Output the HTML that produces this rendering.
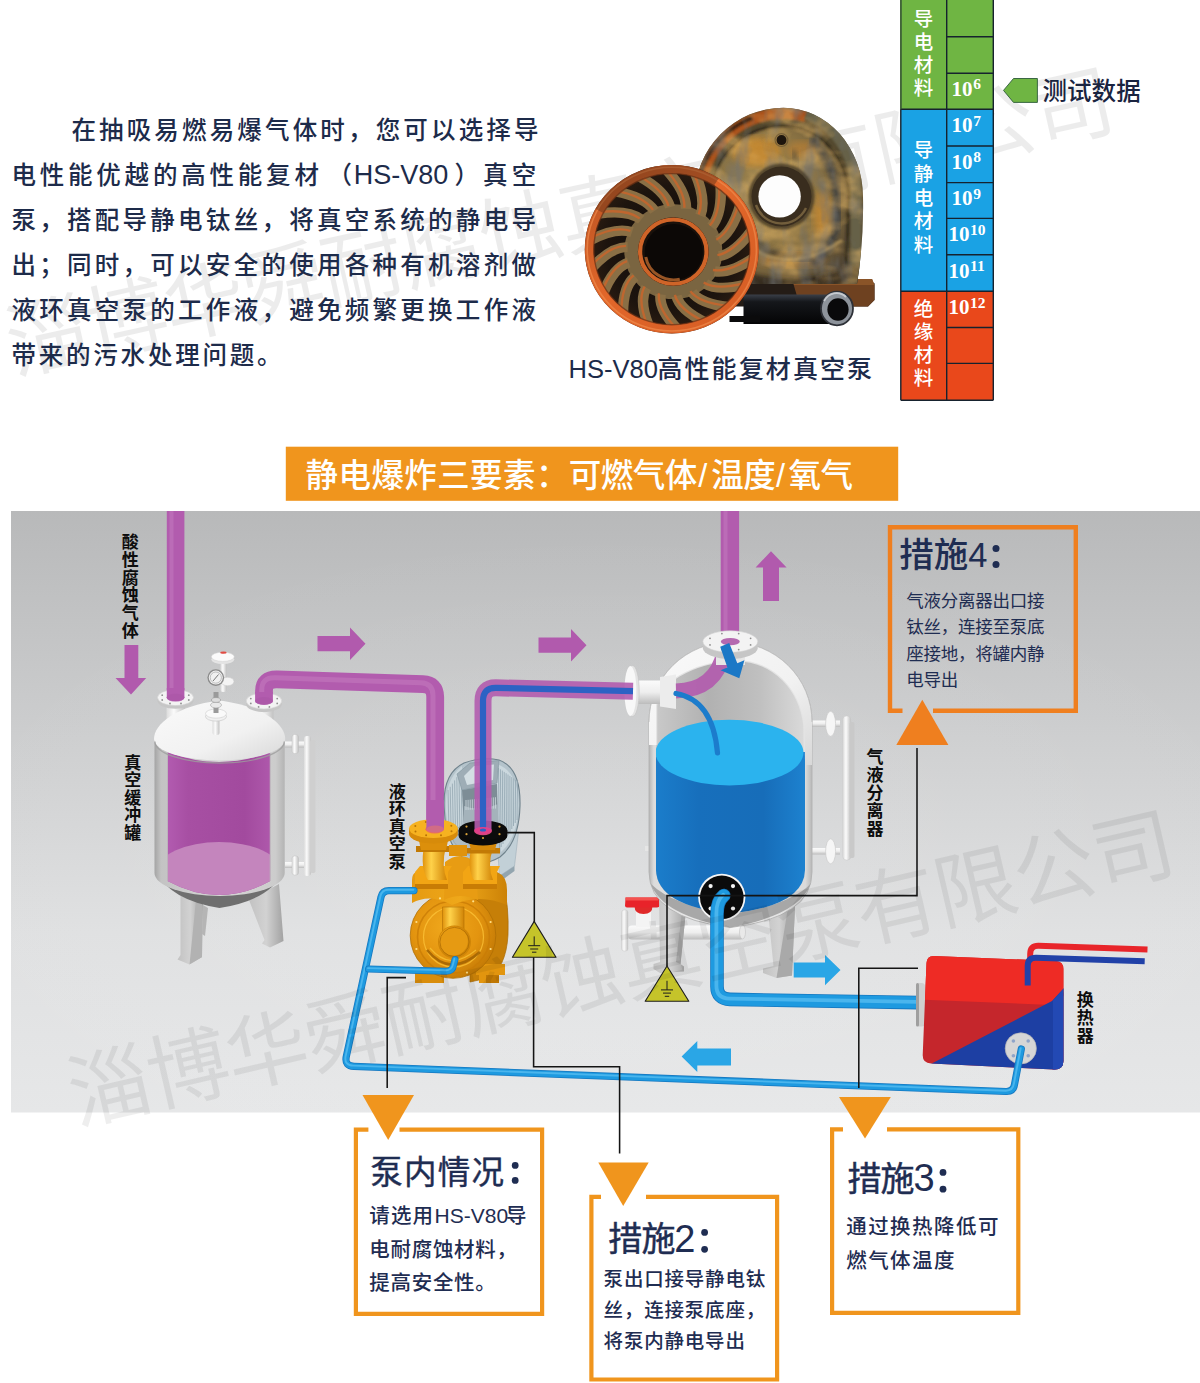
<!DOCTYPE html>
<html lang="zh-CN"><head><meta charset="utf-8"><title>HS-V80 高性能复材真空泵 — 静电防爆方案</title>
<style>
html,body{margin:0;padding:0;background:#fff}
body{width:1200px;height:1383px;overflow:hidden;position:relative;font-family:"Liberation Sans",sans-serif}
#art{position:absolute;left:0;top:0;width:1200px;height:1383px;display:block}
.num{font-family:"Liberation Serif",serif;font-weight:bold;font-size:21px;fill:#fff}
.c{font-family:"Liberation Sans","Noto Sans CJK SC",sans-serif}
.m{font-weight:500}
.k{font-weight:bold}
.t{position:absolute;margin:0;padding:0;font-weight:normal;color:transparent;overflow:hidden;white-space:normal;word-break:break-all;font-family:"Liberation Sans",sans-serif;-webkit-user-select:text;user-select:text}
</style></head><body>
<svg id="art" width="1200" height="1383" viewBox="0 0 1200 1383">
<defs>
<linearGradient id="bgv" x1="0" y1="0" x2="0" y2="1"><stop offset="0" stop-color="#b8b9ba"/><stop offset="0.2" stop-color="#c3c4c5"/><stop offset="0.45" stop-color="#d1d2d3"/><stop offset="0.7" stop-color="#dfe0e1"/><stop offset="1" stop-color="#e6e7e8"/></linearGradient>
<radialGradient id="bgr" cx="0.5" cy="0.62" r="0.6"><stop offset="0" stop-color="#fff" stop-opacity="0.12"/><stop offset="1" stop-color="#fff" stop-opacity="0"/></radialGradient>
<linearGradient id="bgl" x1="0" y1="0" x2="0.5" y2="0.6"><stop offset="0" stop-color="#000" stop-opacity="0.08"/><stop offset="0.6" stop-color="#000" stop-opacity="0"/><stop offset="1" stop-color="#000" stop-opacity="0"/></linearGradient>
<linearGradient id="tankw" x1="0" y1="0" x2="1" y2="0"><stop offset="0" stop-color="#a4a4a4"/><stop offset="0.05" stop-color="#c3c3c3"/><stop offset="0.5" stop-color="#d6d6d6"/><stop offset="0.93" stop-color="#cccccc"/><stop offset="1" stop-color="#b4b4b4"/></linearGradient>
<linearGradient id="purin" x1="0" y1="0" x2="1" y2="0"><stop offset="0" stop-color="#b25bb0"/><stop offset="0.2" stop-color="#a74fa3"/><stop offset="0.75" stop-color="#a24a9e"/><stop offset="1" stop-color="#ae58ab"/></linearGradient>
<linearGradient id="domeg" x1="0" y1="0" x2="1" y2="1"><stop offset="0" stop-color="#fafafa"/><stop offset="0.6" stop-color="#f1f1f1"/><stop offset="1" stop-color="#d8d8d8"/></linearGradient>
<linearGradient id="legg" x1="0" y1="0" x2="1" y2="0"><stop offset="0" stop-color="#c2c2c2"/><stop offset="0.5" stop-color="#d2d2d2"/><stop offset="1" stop-color="#a2a2a2"/></linearGradient>
<linearGradient id="whg" x1="0" y1="0" x2="1" y2="0"><stop offset="0" stop-color="#dcdcdc"/><stop offset="0.4" stop-color="#fbfbfb"/><stop offset="1" stop-color="#c2c2c2"/></linearGradient>
<linearGradient id="whgv" x1="0" y1="0" x2="0" y2="1"><stop offset="0" stop-color="#fbfbfb"/><stop offset="0.5" stop-color="#eeeeee"/><stop offset="1" stop-color="#bcbcbc"/></linearGradient>
<linearGradient id="sepsh" x1="0" y1="0" x2="1" y2="0"><stop offset="0" stop-color="#b4b4b4"/><stop offset="0.03" stop-color="#dcdcdc"/><stop offset="0.5" stop-color="#f4f4f4"/><stop offset="0.96" stop-color="#dadada"/><stop offset="1" stop-color="#b8b8b8"/></linearGradient>
<linearGradient id="sepin" x1="0" y1="0" x2="1" y2="0"><stop offset="0" stop-color="#c9c9c9"/><stop offset="0.35" stop-color="#b1b1b1"/><stop offset="0.7" stop-color="#c0c0c0"/><stop offset="1" stop-color="#dadada"/></linearGradient>
<linearGradient id="watg" x1="0" y1="0" x2="1" y2="0"><stop offset="0" stop-color="#1b7fcd"/><stop offset="0.3" stop-color="#176fbc"/><stop offset="0.7" stop-color="#176db9"/><stop offset="1" stop-color="#1e85d3"/></linearGradient>
<linearGradient id="motg" x1="0" y1="0" x2="1" y2="1"><stop offset="0" stop-color="#eef4f7"/><stop offset="0.5" stop-color="#cfdbe1"/><stop offset="1" stop-color="#a9b9c2"/></linearGradient>
<radialGradient id="pumpc" cx="0.42" cy="0.4" r="0.65"><stop offset="0" stop-color="#f0a81c"/><stop offset="0.6" stop-color="#e3940f"/><stop offset="1" stop-color="#c17805"/></radialGradient>
<linearGradient id="pumpb" x1="0" y1="0" x2="1" y2="0"><stop offset="0" stop-color="#e59a12"/><stop offset="0.5" stop-color="#efa81a"/><stop offset="1" stop-color="#cc8207"/></linearGradient>
<linearGradient id="tubeY" x1="0" y1="0" x2="1" y2="0"><stop offset="0" stop-color="#e0920c"/><stop offset="0.35" stop-color="#ffd24a"/><stop offset="1" stop-color="#d18406"/></linearGradient>
<filter id="sb2"><feGaussianBlur stdDeviation="2"/></filter>
<filter id="sb1"><feGaussianBlur stdDeviation="0.8"/></filter>
<clipPath id="tankclip"><path d="M167.5 752Q219.5 772 270.2 752V881Q219.5 909 167.5 881Z"/></clipPath>
</defs>
<!-- watermark top -->
<text class="c" transform="translate(13.78 374.35) rotate(-12.6)" font-size="82" letter-spacing="-1.2" fill="#000" opacity="0.072">淄博华舜耐腐蚀真空泵有限公司</text>
<!-- top -->
<text class="c m" x="71.4" y="138.81" font-size="24.5" letter-spacing="3.16" fill="#1d2b4a">在抽吸易燃易爆气体时，您可以选择导</text>
<text class="c m" x="11.4" y="183.81" font-size="24.5" letter-spacing="3.8" fill="#1d2b4a">电性能优越的高性能复材</text>
<text class="c m" x="327.5" y="183.81" font-size="24.5" fill="#1d2b4a">（</text>
<text class="c m" x="353.8" y="183.61" font-size="27" fill="#1d2b4a">HS-V80</text>
<text class="c m" x="454.5" y="183.81" font-size="24.5" letter-spacing="4.1" fill="#1d2b4a">）真空</text>
<text class="c m" x="11.4" y="228.81" font-size="24.5" letter-spacing="3.28" fill="#1d2b4a">泵，搭配导静电钛丝，将真空系统的静电导</text>
<text class="c m" x="11.4" y="273.81" font-size="24.5" letter-spacing="3.28" fill="#1d2b4a">出；同时，可以安全的使用各种有机溶剂做</text>
<text class="c m" x="11.4" y="318.81" font-size="24.5" letter-spacing="3.28" fill="#1d2b4a">液环真空泵的工作液，避免频繁更换工作液</text>
<text class="c m" x="11.4" y="363.81" font-size="24.5" letter-spacing="2.8" fill="#1d2b4a">带来的污水处理问题。</text>
<text class="c m" x="568.6" y="378" font-size="25.5" fill="#1d2b4a">HS-V80</text>
<text class="c m" x="657.4" y="377.8" font-size="25" letter-spacing="2.1" fill="#1d2b4a">高性能复材真空泵</text>
<rect x="900.8" y="-2" width="92.5" height="111.3" fill="#6fb543"/>
<rect x="900.8" y="109.3" width="92.5" height="181.9" fill="#1aa2e4"/>
<rect x="900.8" y="291.2" width="92.5" height="109.0" fill="#e9481b"/>
<path d="M946.7 -2V400.2M993.3 -2V400.2M900.8 -2V400.2M946.7 36.8H993.3M946.7 73.3H993.3M900.8 109.3H993.3M946.7 146.0H993.3M946.7 182.6H993.3M946.7 218.4H993.3M946.7 254.8H993.3M900.8 291.2H993.3M946.7 327.5H993.3M946.7 363.4H993.3M900.8 400.2H993.3" stroke="#16222e" stroke-width="1.4" fill="none"/>
<path d="M900.8 -2V109.3" stroke="#4d7a3a" stroke-width="1" fill="none"/>
<text class="c m" font-size="19.5" fill="#fff"><tspan x="913.84" y="25.5">导</tspan><tspan x="913.84" y="48.8">电</tspan><tspan x="913.84" y="72.1">材</tspan><tspan x="913.84" y="95.4">料</tspan></text>
<text class="c m" font-size="19.5" fill="#fff"><tspan x="913.84" y="157.4">导</tspan><tspan x="913.84" y="181">静</tspan><tspan x="913.84" y="204.6">电</tspan><tspan x="913.84" y="228.2">材</tspan><tspan x="913.84" y="251.8">料</tspan></text>
<text class="c m" font-size="19.5" fill="#fff"><tspan x="913.84" y="316.4">绝</tspan><tspan x="913.84" y="339.4">缘</tspan><tspan x="913.84" y="362.4">材</tspan><tspan x="913.84" y="385.4">料</tspan></text>
<text x="951.6" y="95.6" class="num">10<tspan dy="-6.2" font-size="15.5" dx="0.6">6</tspan></text>
<text x="951.6" y="132.0" class="num">10<tspan dy="-6.2" font-size="15.5" dx="0.6">7</tspan></text>
<text x="951.6" y="168.6" class="num">10<tspan dy="-6.2" font-size="15.5" dx="0.6">8</tspan></text>
<text x="951.6" y="205.2" class="num">10<tspan dy="-6.2" font-size="15.5" dx="0.6">9</tspan></text>
<text x="948.4" y="241.4" class="num">10<tspan dy="-6.2" font-size="15.5" dx="0.6">10</tspan></text>
<text x="948.4" y="277.6" class="num">10<tspan dy="-6.2" font-size="15.5" dx="0.6">11</tspan></text>
<text x="948.4" y="314.0" class="num">10<tspan dy="-6.2" font-size="15.5" dx="0.6">12</tspan></text>
<path d="M1003.5 90.4L1013.5 78.5H1037.4V102.4H1013.5Z" fill="#6fb543" stroke="#2d5a3a" stroke-width="0.9"/>
<text class="c m" x="1042.4" y="99.6" font-size="24.5" letter-spacing="0.1" fill="#1a2440">测试数据</text>
<!-- photo -->
<defs>
<radialGradient id="hsg" cx="0.42" cy="0.40" r="0.70"><stop offset="0" stop-color="#9f8752"/><stop offset="0.5" stop-color="#8d7544"/><stop offset="0.8" stop-color="#6e5c3a"/><stop offset="1" stop-color="#4e412d"/></radialGradient>
<radialGradient id="impbg" cx="0.5" cy="0.5" r="0.5"><stop offset="0" stop-color="#0e0a08"/><stop offset="0.75" stop-color="#1d140e"/><stop offset="1" stop-color="#2e1e12"/></radialGradient>
<linearGradient id="pipeg" x1="0" y1="0" x2="0" y2="1"><stop offset="0" stop-color="#3a3f48"/><stop offset="0.25" stop-color="#15171b"/><stop offset="1" stop-color="#040405"/></linearGradient>
<linearGradient id="ringg" x1="0" y1="0" x2="1" y2="1"><stop offset="0" stop-color="#b85222"/><stop offset="0.45" stop-color="#e2672a"/><stop offset="1" stop-color="#d45c24"/></linearGradient>
<filter id="rust" x="-5%" y="-5%" width="110%" height="110%"><feTurbulence type="fractalNoise" baseFrequency="0.03 0.045" numOctaves="3" seed="7" result="n"/><feColorMatrix in="n" type="matrix" values="0 0 0 0 0.78  0 0 0 0 0.47  0 0 0 0 0.14  3.2 0 0 0 -1.35" result="c"/><feComposite in="c" in2="SourceGraphic" operator="in"/></filter>
<filter id="dirt" x="-5%" y="-5%" width="110%" height="110%"><feTurbulence type="fractalNoise" baseFrequency="0.06 0.025" numOctaves="3" seed="23" result="n"/><feColorMatrix in="n" type="matrix" values="0 0 0 0 0.16  0 0 0 0 0.17  0 0 0 0 0.18  0 3.0 0 0 -1.35" result="c"/><feComposite in="c" in2="SourceGraphic" operator="in"/></filter>
<filter id="b1"><feGaussianBlur stdDeviation="1.2"/></filter>
<filter id="b2"><feGaussianBlur stdDeviation="2"/></filter>
<filter id="b3"><feGaussianBlur stdDeviation="3.5"/></filter>
<clipPath id="hclip"><path d="M694.5 198A88.9 90.3 0 0 1 783.4 107.7A79.6 89.3 0 0 1 863 197Q864 240 857 284H735Q694.5 250 694.5 198Z"/></clipPath>
</defs>
<path d="M729 283H874.5V300L868 306.5H729Z" fill="#241c16"/>
<path d="M792 279H872L874.5 285V300L868 306.5H800Z" fill="#6e4120"/>
<path d="M792 279H872L874.5 285H794Z" fill="#8a5428"/>
<path d="M694.5 198A88.9 90.3 0 0 1 783.4 107.7A79.6 89.3 0 0 1 863 197Q864 240 857 284H735Q694.5 250 694.5 198Z" fill="#54492f"/>
<g clip-path="url(#hclip)">
<path d="M700 200A83.5 84.5 0 0 1 783.4 113.5Q796 114 806 117" fill="none" stroke="#b0541c" stroke-width="11" opacity="0.95" filter="url(#b1)"/>
<path d="M696 205A87.5 89 0 0 1 752 118" fill="none" stroke="#2c1c10" stroke-width="4" opacity="0.85" filter="url(#b1)"/>
<path d="M806 114A72 82 0 0 1 856 197V284" fill="none" stroke="#6b664e" stroke-width="11" opacity="0.85" filter="url(#b1)"/>
<path d="M711.2 198A71.8 71 0 0 1 783 126A65.3 71 0 0 1 848.3 197L846 286H742Q711 250 711.2 198Z" fill="url(#hsg)"/>
<path d="M711.2 198A71.8 71 0 0 1 783 126A65.3 71 0 0 1 848.3 197L846 286" fill="none" stroke="#2a2418" stroke-width="2.6" opacity="0.8" filter="url(#b1)"/>
<ellipse cx="757" cy="152" rx="24" ry="15" fill="#c98a2f" opacity="0.85" filter="url(#b3)"/>
<ellipse cx="803" cy="150" rx="16" ry="9" fill="#c08030" opacity="0.6" filter="url(#b3)"/>
<ellipse cx="823" cy="215" rx="10" ry="24" fill="#c88a30" opacity="0.8" filter="url(#b3)"/>
<ellipse cx="792" cy="260" rx="34" ry="7" fill="#b97a2c" opacity="0.7" filter="url(#b3)"/>
<ellipse cx="738" cy="215" rx="10" ry="20" fill="#b8842f" opacity="0.55" filter="url(#b3)"/>
<path d="M812 138Q840 172 838 215Q836 246 812 264" fill="none" stroke="#343a42" stroke-width="8" opacity="0.7" filter="url(#b2)"/>
<path d="M742 228Q768 262 812 258" fill="none" stroke="#33332f" stroke-width="8" opacity="0.65" filter="url(#b2)"/>
<path d="M793 150Q800 170 797 180" fill="none" stroke="#4a463a" stroke-width="5" opacity="0.5" filter="url(#b2)"/>
<path d="M748 246Q792 276 842 240" fill="none" stroke="#b79a5e" stroke-width="3.2" opacity="0.65" filter="url(#b1)"/>
<path d="M735 268Q790 290 862 264V290H735Z" fill="#221c16" opacity="0.7" filter="url(#b2)"/>
<path d="M694.5 198A88.9 90.3 0 0 1 783.4 107.7A79.6 89.3 0 0 1 863 197Q864 240 857 284H735Q694.5 250 694.5 198Z" filter="url(#rust)" opacity="0.5"/>
<path d="M694.5 198A88.9 90.3 0 0 1 783.4 107.7A79.6 89.3 0 0 1 863 197Q864 240 857 284H735Q694.5 250 694.5 198Z" filter="url(#dirt)" opacity="0.55"/>
</g>
<circle cx="781.5" cy="196.6" r="33" fill="#3f3422" opacity="0.75" filter="url(#b1)"/>
<circle cx="781.5" cy="196.6" r="30" fill="#392d1e"/>
<path d="M756 205A27 27 0 0 0 806 208" fill="none" stroke="#8a7448" stroke-width="2.4" opacity="0.7"/>
<circle cx="779.6" cy="196.4" r="21.2" fill="#fdfdfd"/>
<circle cx="781.5" cy="140.1" r="5" fill="#1d150d"/><circle cx="781.5" cy="140.1" r="6.4" fill="none" stroke="#5a4a30" stroke-width="1.2" opacity="0.6"/>
<path d="M743.5 294.5H840V324H743.5Z" fill="url(#pipeg)"/>
<path d="M729.5 316H760V322H729.5Z" fill="#0b0b0c"/>
<ellipse cx="837" cy="308.5" rx="16" ry="16.8" fill="#8d939b"/>
<ellipse cx="837" cy="308.5" rx="16" ry="16.8" fill="none" stroke="#2e3138" stroke-width="1.8"/>
<path d="M824 301A14 14.5 0 0 1 846 297" fill="none" stroke="#d6dade" stroke-width="2" opacity="0.8"/>
<ellipse cx="838" cy="309.5" rx="10.6" ry="11.2" fill="#09090b"/>
<g transform="translate(671.8 249.2) scale(1 0.968)">
<circle cx="0" cy="0" r="87.0" fill="url(#impbg)"/>
<circle cx="1.5" cy="2.5" r="42" fill="none" stroke="#7a6541" stroke-width="14"/>
<path d="M47.2 7.3Q62.7 4.6 79.7 -19.1M42.8 22.7Q57.8 25.6 81.5 9.3M33.5 35.6Q46.0 43.6 73.4 36.6M20.2 44.5Q28.8 56.5 56.4 59.5M4.7 48.4Q8.2 62.8 32.7 75.2M-11.2 46.7Q-13.3 61.6 5.0 81.8M-25.5 39.7Q-33.1 53.1 -23.3 78.6M-36.6 28.2Q-48.8 38.4 -48.8 65.9M-43.1 13.6Q-58.5 19.2 -68.4 45.2M-44.2 -2.3Q-61.1 -2.2 -79.7 19.1M-39.8 -17.7Q-56.2 -23.2 -81.5 -9.3M-30.5 -30.6Q-44.4 -41.2 -73.4 -36.6M-17.2 -39.5Q-27.2 -54.1 -56.4 -59.5M-1.7 -43.4Q-6.6 -60.4 -32.7 -75.2M14.2 -41.7Q14.9 -59.2 -5.0 -81.8M28.5 -34.7Q34.7 -50.7 23.3 -78.6M39.6 -23.2Q50.4 -36.0 48.8 -65.9M46.1 -8.6Q60.1 -16.8 68.4 -45.2" fill="none" stroke="#8a6f45" stroke-width="10.5" stroke-linecap="butt"/>
<path d="M47.2 7.3Q62.7 4.6 79.7 -19.1M42.8 22.7Q57.8 25.6 81.5 9.3M33.5 35.6Q46.0 43.6 73.4 36.6M20.2 44.5Q28.8 56.5 56.4 59.5M4.7 48.4Q8.2 62.8 32.7 75.2M-11.2 46.7Q-13.3 61.6 5.0 81.8M-25.5 39.7Q-33.1 53.1 -23.3 78.6M-36.6 28.2Q-48.8 38.4 -48.8 65.9M-43.1 13.6Q-58.5 19.2 -68.4 45.2M-44.2 -2.3Q-61.1 -2.2 -79.7 19.1M-39.8 -17.7Q-56.2 -23.2 -81.5 -9.3M-30.5 -30.6Q-44.4 -41.2 -73.4 -36.6M-17.2 -39.5Q-27.2 -54.1 -56.4 -59.5M-1.7 -43.4Q-6.6 -60.4 -32.7 -75.2M14.2 -41.7Q14.9 -59.2 -5.0 -81.8M28.5 -34.7Q34.7 -50.7 23.3 -78.6M39.6 -23.2Q50.4 -36.0 48.8 -65.9M46.1 -8.6Q60.1 -16.8 68.4 -45.2" fill="none" stroke="#c8652c" stroke-width="2.4" stroke-linecap="butt" transform="translate(-1.6 -1.2)" opacity="0.85"/>
<circle cx="0" cy="0" r="82.6" fill="none" stroke="url(#ringg)" stroke-width="8.8"/>
<circle cx="0" cy="0" r="84.6" fill="none" stroke="#f08a4c" stroke-width="1.6" opacity="0.7"/>
<circle cx="0" cy="0" r="78.0" fill="none" stroke="#6e2f12" stroke-width="1.4" opacity="0.7"/>
<path d="M-72.5 -39.6A82.6 82.6 0 0 1 44.6 -69.5" fill="none" stroke="#5a3018" stroke-width="8.8" opacity="0.45"/>
<circle cx="1.5" cy="2.5" r="35.4" fill="#1a110b"/>
<circle cx="1.5" cy="2.5" r="33.2" fill="none" stroke="#cf6428" stroke-width="4.2"/>
<circle cx="2" cy="3" r="29" fill="#0c0806"/>
<path d="M-26 8A28.5 28.5 0 0 0 8 31" fill="none" stroke="#b0632c" stroke-width="3" opacity="0.85"/>
</g>
<!-- banner -->
<rect x="285.8" y="446.7" width="612.4" height="54.1" fill="#f0951d"/>
<text class="c m" x="305.6" y="487.3" font-size="32.5" letter-spacing="0.4" fill="#fff">静电爆炸三要素：</text>
<text class="c m" x="568.8" y="487.3" font-size="32.5" letter-spacing="-0.5" fill="#fff">可燃气体</text>
<text class="c m" x="698.2" y="487.3" font-size="32.5" fill="#fff">/</text>
<text class="c m" x="711.2" y="487.3" font-size="32.5" letter-spacing="-0.5" fill="#fff">温度</text>
<text class="c m" x="776" y="487.3" font-size="32.5" fill="#fff">/</text>
<text class="c m" x="788.6" y="487.3" font-size="32.5" letter-spacing="-0.5" fill="#fff">氧气</text>
<!-- diagram -->
<rect x="11" y="511" width="1189" height="601.5" fill="url(#bgv)"/>
<rect x="11" y="511" width="1189" height="601.5" fill="url(#bgr)"/>
<rect x="166.8" y="511" width="17.6" height="187" fill="#b25cae"/><rect x="169.5" y="511" width="4" height="187" fill="#c47bc0" opacity="0.5"/>
<path d="M264 701V691Q264 679 277 679.3L423 684.2Q435.2 684.6 435.2 697V829" fill="none" stroke="#b25cae" stroke-width="17.8" stroke-linejoin="round"/><path d="M264 701V691Q264 679 277 679.3L423 684.2Q435.2 684.6 435.2 697V829" fill="none" stroke="#c47bc0" stroke-width="5.0" stroke-linejoin="round" opacity="0.55" transform="translate(-2.2 -1.5)"/>
<rect x="720.7" y="511" width="18.4" height="132" fill="#b25cae"/><rect x="723.5" y="511" width="4" height="132" fill="#c47bc0" opacity="0.5"/>
<path d="M180.5 888L203 898L202 957L189.5 964.5L177.5 959.5L180.5 955Z" fill="url(#legg)"/>
<path d="M189.5 964.5L202 957V898L196 900Z" fill="#b2b2b2"/>
<path d="M203 905L208 908L205 936L202 934Z" fill="#b5b5b5"/>
<path d="M249 900L279 884L283.5 941L270 947.5L262 943.5L264.5 940Z" fill="url(#legg)"/>
<path d="M157 872Q170 900 219.5 908Q270 900 283 872Z" fill="#6f6f6f"/>
<path d="M154.5 738V873A65.1 23 0 0 0 284.7 873V738Z" fill="url(#tankw)"/>
<path d="M167.5 752Q219.5 772 270.2 752V881Q219.5 909 167.5 881Z" fill="url(#purin)"/>
<ellipse cx="219" cy="870" rx="61" ry="28" fill="#c485bd" clip-path="url(#tankclip)"/>
<path d="M167.5 752V881M270.2 752V881" stroke="#bdbdbd" stroke-width="0.8" fill="none"/>
<rect x="285" y="741.5" width="20" height="6" fill="url(#whgv)"/><rect x="285" y="862" width="20" height="6" fill="url(#whgv)"/>
<rect x="292" y="734.5" width="6.5" height="19" rx="2.5" fill="url(#whg)" stroke="#bbb" stroke-width="0.4"/><rect x="292" y="856" width="6.5" height="19" rx="2.5" fill="url(#whg)" stroke="#bbb" stroke-width="0.4"/>
<rect x="304" y="736" width="7" height="140" rx="3" fill="url(#whg)"/><rect x="310" y="740" width="5.5" height="133" rx="2" fill="#cfcfcf"/>
<path d="M166.5 700V726Q175.5 732 185 722V700Z" fill="url(#whg)"/>
<path d="M254.5 703V724Q262 733 273.5 729V703Z" fill="url(#whg)"/>
<path d="M154 739C154 724 176 706 219.5 700.5C263 706 285 724 285.2 739A65.6 21.5 0 0 1 154 739Z" fill="url(#domeg)"/>
<path d="M155 741.5A64.6 21.5 0 0 0 284.2 741.5" fill="none" stroke="#9d9d9d" stroke-width="1.3" opacity="0.8"/>
<path d="M157.5 697.6V700.8A18.0 8.0 0 0 0 193.5 700.8V697.6Z" fill="#c6c6c6"/><ellipse cx="175.5" cy="697.6" rx="18.0" ry="8.0" fill="#f3f3f3" stroke="#d2d2d2" stroke-width="0.6"/><circle cx="188.8" cy="700.0" r="0.9" fill="#8f8f8f"/><circle cx="181.0" cy="703.5" r="0.9" fill="#8f8f8f"/><circle cx="170.0" cy="703.5" r="0.9" fill="#8f8f8f"/><circle cx="162.2" cy="700.0" r="0.9" fill="#8f8f8f"/><circle cx="162.2" cy="695.2" r="0.9" fill="#8f8f8f"/><circle cx="170.0" cy="691.7" r="0.9" fill="#8f8f8f"/><circle cx="181.0" cy="691.7" r="0.9" fill="#8f8f8f"/><circle cx="188.8" cy="695.2" r="0.9" fill="#8f8f8f"/><ellipse cx="175.5" cy="697.6" rx="9.0" ry="4.0" fill="#c98ec6"/>
<path d="M246.2 701.0V704.2A17.8 8.0 0 0 0 281.8 704.2V701.0Z" fill="#c6c6c6"/><ellipse cx="264.0" cy="701.0" rx="17.8" ry="8.0" fill="#f3f3f3" stroke="#d2d2d2" stroke-width="0.6"/><circle cx="277.2" cy="703.4" r="0.9" fill="#8f8f8f"/><circle cx="269.4" cy="706.9" r="0.9" fill="#8f8f8f"/><circle cx="258.6" cy="706.9" r="0.9" fill="#8f8f8f"/><circle cx="250.8" cy="703.4" r="0.9" fill="#8f8f8f"/><circle cx="250.8" cy="698.6" r="0.9" fill="#8f8f8f"/><circle cx="258.6" cy="695.1" r="0.9" fill="#8f8f8f"/><circle cx="269.4" cy="695.1" r="0.9" fill="#8f8f8f"/><circle cx="277.2" cy="698.6" r="0.9" fill="#8f8f8f"/><ellipse cx="264.0" cy="701.0" rx="9.0" ry="4.0" fill="#c98ec6"/>
<path d="M166.8 688V697.6A8.8 3.7 0 0 0 184.4 697.6V688Z" fill="#b25cae"/><ellipse cx="175.6" cy="697.4" rx="8.8" ry="3.7" fill="#a955a5" opacity="0.55"/>
<path d="M255.1 692V701A8.9 3.7 0 0 0 272.9 701V692Z" fill="#b25cae"/><ellipse cx="264" cy="700.8" rx="8.9" ry="3.7" fill="#a955a5" opacity="0.55"/>
<rect x="212.5" y="718" width="7" height="17" rx="2.5" fill="url(#whg)"/>
<ellipse cx="216" cy="716.5" rx="10.5" ry="4.6" fill="#f1f1f1" stroke="#c4c4c4" stroke-width="0.6"/><ellipse cx="216" cy="713.6" rx="10.5" ry="4.6" fill="#fafafa" stroke="#cdcdcd" stroke-width="0.6"/>
<rect x="213.5" y="692" width="5" height="21" fill="#9a9a9a"/><ellipse cx="216" cy="705" rx="5.5" ry="3" fill="#e9e9e9" stroke="#999" stroke-width="0.5"/><ellipse cx="216" cy="700" rx="4.5" ry="2.4" fill="#ddd" stroke="#888" stroke-width="0.5"/>
<rect x="220.5" y="660" width="6" height="32" rx="2.5" fill="url(#whg)"/><ellipse cx="227.5" cy="681.5" rx="6.5" ry="4.2" fill="#f4f4f4" stroke="#c8c8c8" stroke-width="0.5"/>
<ellipse cx="222.8" cy="659.4" rx="11.5" ry="4.6" fill="#e4e4e4"/><ellipse cx="222.8" cy="656.8" rx="11.5" ry="4.6" fill="#fbfbfb" stroke="#d0d0d0" stroke-width="0.5"/><ellipse cx="223.5" cy="652.7" rx="3.2" ry="1.1" fill="#e14b43"/>
<circle cx="215.8" cy="677.6" r="8.4" fill="#8c8c8c"/><circle cx="215.8" cy="677.6" r="7" fill="#f1f1f1"/><circle cx="215.8" cy="677.6" r="5.6" fill="none" stroke="#9b9b9b" stroke-width="0.6"/><path d="M213 681L218.5 674.5" stroke="#444" stroke-width="0.7"/>
<path d="M497 840L518.5 832L514.5 866L499.5 876Z" fill="#c2d0d7" stroke="#9fb0ba" stroke-width="0.6"/>
<path d="M499.5 876L514.5 866V871L501 881Z" fill="#93a5af"/>
<path d="M444.5 812Q441 774 464 763Q482 756.5 499 760Q521 768 520 806Q519 842 500 857Q480 869 462 857Q445.5 842 444.5 812Z" fill="#b4c3cb" stroke="#6f828c" stroke-width="1.1"/>
<path d="M497 764Q519 772 518.5 806Q517.5 838 501 852L497 800Z" fill="#cbd8de"/>
<path d="M498.5 768.0L499.5 850.0M500.4 769.3L501.2 847.0M502.3 770.6L503.0 844.0M504.2 771.9L504.8 841.0M506.1 773.2L506.5 838.0M508.0 774.5L508.2 835.0M509.9 775.8L510.0 832.0M511.8 777.1L511.8 829.0M513.7 778.4L513.5 826.0M515.6 779.7L515.2 823.0M517.5 781.0L517.0 820.0" stroke="#8fa3ae" stroke-width="0.8" fill="none"/>
<path d="M446 812Q444 780 462 766L464 848Q448 836 446 812Z" fill="#c9d6dc"/>
<path d="M448.0 790.0L449.0 832.0M450.2 786.8L451.2 834.2M452.4 783.6L453.4 836.4M454.6 780.4L455.6 838.6M456.8 777.2L457.8 840.8M459.0 774.0L460.0 843.0M461.2 770.8L462.2 845.2" stroke="#94a7b1" stroke-width="0.8" fill="none"/>
<path d="M462 790L497 784L498 826Q482 838 464 828Z" fill="#7d8d96"/>
<path d="M464 806Q480 812 498 804L498 826Q482 838 464 828Z" fill="#a4b3bb"/>
<path d="M466.0 800.0V810.0M468.1 799.8V809.9M470.2 799.6V809.8M472.3 799.4V809.7M474.4 799.2V809.6M476.5 799.0V809.5M478.6 798.8V809.4M480.7 798.6V809.3M482.8 798.4V809.2M484.9 798.2V809.1M487.0 798.0V809.0M489.1 797.8V808.9M491.2 797.6V808.8M493.3 797.4V808.7M495.4 797.2V808.6" stroke="#d3dee3" stroke-width="0.8" fill="none"/>
<path d="M457 774L470 763L499 760.5L497 783L462 790Z" fill="#9eadb6" stroke="#8195a0" stroke-width="0.6"/>
<path d="M464 776L474 766L494 764.5L493 780L467 785Z" fill="#d3dee3"/>
<path d="M449 832Q470 818 500 830Q498 850 480 858Q458 856 449 832Z" fill="#adbcc4" stroke="#8fa2ac" stroke-width="0.7"/>
<path d="M455 836Q472 826 494 834" fill="none" stroke="#8396a0" stroke-width="0.9"/>
<rect x="628" y="925.5" width="116" height="14" rx="4" fill="url(#whgv)"/>
<rect x="621.5" y="910" width="6.5" height="41" rx="2.5" fill="url(#whg)" stroke="#c4c4c4" stroke-width="0.4"/>
<path d="M636 908H651V927H636Z" fill="#f4f4f4"/><path d="M634.5 906H652.5Q652.5 914 643.5 914Q634.5 914 634.5 906Z" fill="#e02a2a"/>
<path d="M625.5 897.5H657.5Q659.5 897.5 659.5 899.5V905.5Q659.5 907.5 657 907.5H627Q625 907.5 625 905.5Z" fill="#e8232a"/><path d="M625.5 897.5H657.5L658.5 900.5H626Z" fill="#f4524f"/>
<ellipse cx="742.5" cy="932" rx="3" ry="7" fill="#e9e9e9" stroke="#bbb" stroke-width="0.5"/>
<path d="M659 893L686.5 905L680.5 964L684 966.5V971.5L660 973L653.5 969V964L660 962Z" fill="url(#legg)"/>
<path d="M680.5 964L686.5 905L683 903.5L676 962Z" fill="#a4a4a4"/>
<path d="M767.5 906L795.5 893L792 975.5L776.5 978L763 973V968.5L773.5 966Z" fill="url(#legg)"/>
<path d="M776.5 978L792 975.5L795.5 893L790 895.5Z" fill="#a9a9a9"/>
<rect x="812" y="720.5" width="28" height="6.5" fill="url(#whgv)"/><rect x="812" y="848" width="28" height="6.5" fill="url(#whgv)"/>
<ellipse cx="830.6" cy="723.8" rx="5" ry="12.5" fill="#f6f6f6" stroke="#c6c6c6" stroke-width="0.6"/><ellipse cx="830.6" cy="851.3" rx="5" ry="12.5" fill="#f6f6f6" stroke="#c6c6c6" stroke-width="0.6"/>
<rect x="842.8" y="716" width="8" height="144" rx="3.5" fill="url(#whg)" stroke="#c9c9c9" stroke-width="0.5"/><rect x="849.5" y="722" width="5" height="136" rx="2" fill="#c9c9c9"/>
<rect x="645" y="846" width="6" height="5" fill="#e6e6e6"/>
<path d="M649 722A81.5 80 0 0 1 812 722V872Q812 918 730.5 927.5Q649.5 918 649 872Z" fill="url(#sepsh)"/>
<path d="M649 722A81.5 80 0 0 1 812 722V872Q812 918 730.5 927.5Q649.5 918 649 872Z" fill="none" stroke="#b2b2b2" stroke-width="0.9"/>
<path d="M651 884Q662 915 730.5 927.5Q799 915 810.5 884Q790 905 730.5 914Q672 905 651 884Z" fill="#9c9c9c" opacity="0.85"/>
<clipPath id="sepclip"><path d="M656 745V706C657 684 690 662 735 660C775 660 800 690 804.5 725L805 762V870Q804 906 730.5 913.5Q657 906 656 870Z"/></clipPath>
<path d="M656 745V706C657 684 690 662 735 660C775 660 800 690 804.5 725L805 762V870Q804 906 730.5 913.5Q657 906 656 870Z" fill="url(#sepin)"/>
<path d="M656 745V706C657 684 690 662 735 660C775 660 800 690 804.5 725L805 762" fill="none" stroke="#e4e4e4" stroke-width="2.4"/><path d="M653.4 745V706C654.4 682 689 659.4 735 657.4" fill="none" stroke="#bdbdbd" stroke-width="0.9"/>
<path d="M649 722A81.5 80 0 0 1 812 722V765H805V762L804.5 725C800 690 775 660 735 660C690 662 657 684 656 706V745H649Z" fill="url(#domeg)"/><path d="M649 722A81.5 80 0 0 1 812 722" fill="none" stroke="#bcbcbc" stroke-width="0.8"/>
<g clip-path="url(#sepclip)"><rect x="650" y="752" width="162" height="170" fill="url(#watg)"/><ellipse cx="729.5" cy="752.6" rx="74" ry="32.8" fill="#2bb3ee"/></g>
<rect x="636" y="680.5" width="38" height="23.5" fill="url(#whgv)"/>
<path d="M660 677L676 674.5V709L660 706.5Z" fill="#ececec"/>
<ellipse cx="632.6" cy="691" rx="6.6" ry="25.5" fill="#e3e3e3" stroke="#c2c2c2" stroke-width="0.6"/><ellipse cx="630.4" cy="691" rx="6" ry="25" fill="#f8f8f8"/>
<path d="M676 691Q716 690 724 652" fill="none" stroke="#b25cae" stroke-width="15" opacity="0.92"/>
<path d="M676 693.5Q713 700 717.5 753" fill="none" stroke="#1c7ccc" stroke-width="5.2" stroke-linecap="round"/>
<rect x="716" y="648" width="29" height="17" fill="#e6e6e6"/>
<path d="M702.9 641.6V648.2A27.4 10.8 0 0 0 757.7 648.2V641.6Z" fill="#c6c6c6"/><ellipse cx="730.3" cy="641.6" rx="27.4" ry="10.8" fill="#f3f3f3" stroke="#d2d2d2" stroke-width="0.6"/><circle cx="750.6" cy="644.9" r="0.9" fill="#8f8f8f"/><circle cx="738.7" cy="649.6" r="0.9" fill="#8f8f8f"/><circle cx="721.9" cy="649.6" r="0.9" fill="#8f8f8f"/><circle cx="710.0" cy="644.9" r="0.9" fill="#8f8f8f"/><circle cx="710.0" cy="638.3" r="0.9" fill="#8f8f8f"/><circle cx="721.9" cy="633.6" r="0.9" fill="#8f8f8f"/><circle cx="738.7" cy="633.6" r="0.9" fill="#8f8f8f"/><circle cx="750.6" cy="638.3" r="0.9" fill="#8f8f8f"/><ellipse cx="730.3" cy="641.6" rx="9.5" ry="3.7" fill="#b569b0"/>
<path d="M720.2 646.8L729.2 643L737.3 663.2L744.4 660.2L739.3 678.2L720.6 670.3L727.4 667.4Z" fill="#1b78c6"/>
<circle cx="721.8" cy="897.3" r="23.6" fill="#f6f6f6"/><circle cx="721.8" cy="897.3" r="21.8" fill="#0b0b0b"/>
<circle cx="733.0" cy="908.5" r="2.1" fill="#f4f4f4"/>
<circle cx="710.6" cy="908.5" r="2.1" fill="#f4f4f4"/>
<circle cx="710.6" cy="886.1" r="2.1" fill="#f4f4f4"/>
<circle cx="733.0" cy="886.1" r="2.1" fill="#f4f4f4"/>
<path d="M723.8 895.5Q717 901 717 914V986Q716.8 999 730 999.4L918 1002.6" fill="none" stroke="#1678c0" stroke-width="13.6" stroke-linejoin="round" stroke-linecap="round"/><path d="M723.8 895.5Q717 901 717 914V986Q716.8 999 730 999.4L918 1002.6" fill="none" stroke="#1e9ae0" stroke-width="12.0" stroke-linejoin="round" stroke-linecap="round"/><path d="M723.8 895.5Q717 901 717 914V986Q716.8 999 730 999.4L918 1002.6" fill="none" stroke="#5cc0f2" stroke-width="3.8" stroke-linejoin="round" stroke-linecap="round" opacity="0.7" transform="translate(-0.6 -0.8)"/>
<path d="M486 866Q510 874 508 935Q506 968 488 978L470 982V866Z" fill="#c67f08" stroke="#a86a04" stroke-width="0.7"/>
<path d="M415 968H444V983H415Z" fill="#d98d0b"/><path d="M476 964H505V975H499V983H479V975H476Z" fill="#e2950e"/><path d="M486 975H499V983H486Z" fill="#c07804"/>
<circle cx="453" cy="935.5" r="42.8" fill="url(#pumpc)" stroke="#b06f04" stroke-width="0.8"/>
<circle cx="453.5" cy="937" r="36" fill="none" stroke="#c97c06" stroke-width="1.6" opacity="0.8"/>
<circle cx="453.5" cy="937" r="30" fill="none" stroke="#ffc83c" stroke-width="1.2" opacity="0.7"/>
<path d="M416 872H448L452 862H470L474 872H497Q507 876 507 890V905Q480 893 452 905Q430 893 412 903V880Q412 874 416 872Z" fill="url(#pumpb)"/>
<path d="M445 862Q460 850 475 862L478 900Q460 892 444 900Z" fill="#e89c13"/>
<path d="M442.5 907H464V934H442.5Z" fill="url(#tubeY)" stroke="#b06f04" stroke-width="0.6"/>
<circle cx="454.5" cy="942" r="16.5" fill="#cf8508"/><circle cx="453.5" cy="941" r="14.4" fill="#e69a12"/><circle cx="454.5" cy="942" r="14.6" fill="none" stroke="#a96803" stroke-width="0.9" opacity="0.8"/>
<path d="M427 950Q450 978 480 952" fill="none" stroke="#9c5f02" stroke-width="2.6" opacity="0.8"/><path d="M430 948Q450 972 476 950" fill="none" stroke="#f7c033" stroke-width="1.2" opacity="0.8"/>
<circle cx="416.4" cy="922.0" r="1.1" fill="#ffe08a"/>
<circle cx="440.0" cy="898.4" r="1.1" fill="#ffe08a"/>
<circle cx="473.2" cy="901.3" r="1.1" fill="#ffe08a"/>
<circle cx="490.6" cy="922.0" r="1.1" fill="#ffe08a"/>
<circle cx="490.6" cy="949.0" r="1.1" fill="#ffe08a"/>
<circle cx="467.0" cy="972.6" r="1.1" fill="#ffe08a"/>
<circle cx="433.8" cy="969.7" r="1.1" fill="#ffe08a"/>
<circle cx="416.4" cy="949.0" r="1.1" fill="#ffe08a"/>
<path d="M415 872L420 866H452L448 872V884H415Z" fill="#f2a514"/><path d="M415 884H448V889H415Z" fill="#c87c05"/>
<path d="M463 872L468 866H500L497 872V884H463Z" fill="#f2a514"/><path d="M463 884H497V889H463Z" fill="#c87c05"/>
<path d="M424 846Q420 868 428 880H447Q441 866 446 846Z" fill="url(#tubeY)"/>
<path d="M471 848Q467 870 474 880H493Q487 866 493 848Z" fill="url(#tubeY)"/>
<path d="M416 846H452V852H416Z" fill="#c27a05"/><path d="M465 848H500V853.5H465Z" fill="#c27a05"/>
<path d="M418 836H449L446 850H421Z" fill="#dc8f0b"/><path d="M468 838H498L495 850H471Z" fill="#d48808"/>
<path d="M449 845H467V856H449Z" fill="#e0930d"/>
<path d="M409 828.6V834A24.4 9.4 0 0 0 457.8 834V828.6Z" fill="#d78b0a"/>
<ellipse cx="433.4" cy="828.6" rx="24.4" ry="9.4" fill="#f6b220"/>
<ellipse cx="434.6" cy="829.2" rx="9.2" ry="4.2" fill="#e8705e"/>
<circle cx="451.5" cy="831.3" r="1" fill="#b87404"/>
<circle cx="441.0" cy="835.2" r="1" fill="#b87404"/>
<circle cx="426.1" cy="835.3" r="1" fill="#b87404"/>
<circle cx="415.5" cy="831.4" r="1" fill="#b87404"/>
<circle cx="415.3" cy="825.9" r="1" fill="#b87404"/>
<circle cx="425.8" cy="822.0" r="1" fill="#b87404"/>
<circle cx="440.7" cy="821.9" r="1" fill="#b87404"/>
<circle cx="451.3" cy="825.8" r="1" fill="#b87404"/>
<path d="M458.6 830.4V835.5A24.4 10 0 0 0 507.4 835.5V830.4Z" fill="#0a0a0a"/>
<ellipse cx="483" cy="830.4" rx="24.4" ry="10" fill="#0c0c0c"/>
<ellipse cx="483" cy="831" rx="9" ry="4.2" fill="#d6457c"/>
<circle cx="499.5" cy="834.2" r="1.1" fill="#d9a23a"/>
<circle cx="483.0" cy="838.0" r="1.1" fill="#d9a23a"/>
<circle cx="466.5" cy="834.2" r="1.1" fill="#d9a23a"/>
<circle cx="466.5" cy="826.6" r="1.1" fill="#d9a23a"/>
<circle cx="483.0" cy="822.8" r="1.1" fill="#d9a23a"/>
<circle cx="499.5" cy="826.6" r="1.1" fill="#d9a23a"/>
<rect x="426.4" y="800" width="17.6" height="29" fill="#b25cae"/>
<ellipse cx="435.2" cy="829" rx="8.8" ry="3.6" fill="#d16c86"/>
<path d="M483 830V701Q483 687.5 496 687.8L633 691.2" fill="none" stroke="#b25cae" stroke-width="17" stroke-linejoin="round" opacity="0.9"/>
<path d="M483 830V701Q483 687.5 496 687.8L633 691.2" fill="none" stroke="#2d62c4" stroke-width="6.2" stroke-linejoin="round"/>
<ellipse cx="483" cy="830.5" rx="8.5" ry="3.4" fill="#e0408a"/><ellipse cx="483" cy="830" rx="3.1" ry="1.6" fill="#2d62c4"/>
<rect x="916" y="983" width="9" height="43.5" rx="3.5" fill="#cfcfcf"/><rect x="916" y="983" width="3" height="43.5" rx="1.5" fill="#9f9f9f"/>
<clipPath id="hxclip"><path d="M934 956L1056 961Q1063.4 961.5 1063.4 969V1061Q1063.4 1070 1054 1069.6L931 1063.6Q922.5 1063.2 922.7 1055L926.5 963Q927 955.7 934 956Z"/></clipPath>
<g clip-path="url(#hxclip)"><rect x="918" y="950" width="150" height="125" fill="#c5262c"/>
<path d="M920 950H1070V991L1052 1005L920 999.5Z" fill="#ee2b25"/>
<path d="M1052 1005L1070 985V1075H1052Z" fill="#d9252a"/>
<path d="M926 1066.5L1052 1001L1064 988V1076H926Z" fill="#1d3fa3"/>
<path d="M1053 1000.5L1064 988V1076H1053Z" fill="#2349b4"/></g>
<circle cx="1020.8" cy="1048.4" r="15.6" fill="#d6d6d6" stroke="#b5b5b5" stroke-width="0.7"/>
<circle cx="1028.2" cy="1055.8" r="1.8" fill="#8fa4c8"/>
<circle cx="1013.4" cy="1055.8" r="1.8" fill="#8fa4c8"/>
<circle cx="1013.4" cy="1041.0" r="1.8" fill="#8fa4c8"/>
<circle cx="1028.2" cy="1041.0" r="1.8" fill="#8fa4c8"/>
<path d="M1030.2 960V954Q1030.2 945.6 1038.5 945.8L1147.5 949.5" fill="none" stroke="#e8252a" stroke-width="6"/>
<path d="M1027.7 985.5V966Q1027.7 957.6 1036 957.8L1144.7 961.2" fill="none" stroke="#2141a8" stroke-width="6"/>
<path d="M1021.3 1049L1014.6 1084Q1013.6 1091.8 1006 1091.5L354 1066.4Q344.6 1066 346.2 1057L381 897Q382.4 890.6 389 890.6H414" fill="none" stroke="#1678c0" stroke-width="7.2" stroke-linejoin="round" stroke-linecap="round"/><path d="M1021.3 1049L1014.6 1084Q1013.6 1091.8 1006 1091.5L354 1066.4Q344.6 1066 346.2 1057L381 897Q382.4 890.6 389 890.6H414" fill="none" stroke="#1e9ae0" stroke-width="5.6" stroke-linejoin="round" stroke-linecap="round"/><path d="M1021.3 1049L1014.6 1084Q1013.6 1091.8 1006 1091.5L354 1066.4Q344.6 1066 346.2 1057L381 897Q382.4 890.6 389 890.6H414" fill="none" stroke="#5cc0f2" stroke-width="1.9" stroke-linejoin="round" stroke-linecap="round" opacity="0.7" transform="translate(-0.6 -0.8)"/>
<path d="M368.6 969L446 971.2Q452.6 971.4 453.6 965L455 959.5" fill="none" stroke="#1678c0" stroke-width="7.0" stroke-linejoin="round" stroke-linecap="round"/><path d="M368.6 969L446 971.2Q452.6 971.4 453.6 965L455 959.5" fill="none" stroke="#1e9ae0" stroke-width="5.4" stroke-linejoin="round" stroke-linecap="round"/><path d="M368.6 969L446 971.2Q452.6 971.4 453.6 965L455 959.5" fill="none" stroke="#5cc0f2" stroke-width="1.8" stroke-linejoin="round" stroke-linecap="round" opacity="0.7" transform="translate(-0.6 -0.8)"/>
<path d="M124.5 645H138.3V678H146.2L131 694.5L115.5 678H124.5Z" fill="#b15aad"/>
<path d="M317.5 636H350V627.5L365.5 643.7L350 660V651.3H317.5Z" fill="#b15aad"/>
<path d="M538.5 637.5H571V629L586.5 645.2L571 661.5V652.8H538.5Z" fill="#b15aad"/>
<path d="M763 601V567.5H755.6L771 551.2L786.6 567.5H779V601Z" fill="#b15aad"/>
<path d="M793.7 962.5H825V955L840.5 970L825 985.2V977.6H793.7Z" fill="#2aa6e6"/>
<path d="M731 1048.6H697.3V1041L681.6 1056.5L697.3 1072V1065.4H731Z" fill="#2aa6e6"/>
<path d="M507 832.6H534.3V922" stroke="#141414" stroke-width="1.55" fill="none"/>
<path d="M533.6 957V1066.8H619.6V1153.5" stroke="#141414" stroke-width="1.55" fill="none"/>
<path d="M406 977.6H387.2V1088" stroke="#141414" stroke-width="1.55" fill="none"/>
<path d="M667 966V895.6H917V748" stroke="#141414" stroke-width="1.55" fill="none"/>
<path d="M918 968.2H858.8V1088" stroke="#141414" stroke-width="1.55" fill="none"/>
<path d="M534.2 921.4L556.0 957.2H512.4Z" fill="#c5c42a" stroke="#1c1c1c" stroke-width="1.1" stroke-linejoin="round"/><path d="M534.2 936.4V945.7M528.2 945.7H540.2M530.2 949.0H538.2M532.0 952.2H536.4" stroke="#1c1c1c" stroke-width="1" fill="none"/>
<path d="M667.0 966.0L688.8 1001.2H645.2Z" fill="#c5c42a" stroke="#1c1c1c" stroke-width="1.1" stroke-linejoin="round"/><path d="M667.0 980.8V989.9M661.0 989.9H673.0M663.0 993.1H671.0M664.8 996.3H669.2" stroke="#1c1c1c" stroke-width="1" fill="none"/>
<text class="c k" font-size="17" fill="#0d0d0d"><tspan x="121.84" y="548.19">酸</tspan><tspan x="121.84" y="565.94">性</tspan><tspan x="121.84" y="583.69">腐</tspan><tspan x="121.84" y="601.44">蚀</tspan><tspan x="121.84" y="619.19">气</tspan><tspan x="121.84" y="636.94">体</tspan></text>
<text class="c k" font-size="17" fill="#0d0d0d"><tspan x="124.14" y="768.69">真</tspan><tspan x="124.14" y="786.29">空</tspan><tspan x="124.14" y="803.89">缓</tspan><tspan x="124.14" y="821.49">冲</tspan><tspan x="124.14" y="839.09">罐</tspan></text>
<text class="c k" font-size="17" fill="#0d0d0d"><tspan x="388.84" y="797.69">液</tspan><tspan x="388.84" y="815.29">环</tspan><tspan x="388.84" y="832.89">真</tspan><tspan x="388.84" y="850.49">空</tspan><tspan x="388.84" y="868.09">泵</tspan></text>
<text class="c k" font-size="17" fill="#0d0d0d"><tspan x="866.44" y="763.19">气</tspan><tspan x="866.44" y="781.19">液</tspan><tspan x="866.44" y="799.19">分</tspan><tspan x="866.44" y="817.19">离</tspan><tspan x="866.44" y="835.19">器</tspan></text>
<text class="c k" font-size="17" fill="#0d0d0d"><tspan x="1076.84" y="1006.19">换</tspan><tspan x="1076.84" y="1023.99">热</tspan><tspan x="1076.84" y="1041.79">器</tspan></text>
<path d="M902.5 710.8H890.0V527.2H1075.8V710.8H933.0" fill="none" stroke="#ef7f1f" stroke-width="4.4" stroke-linejoin="miter"/>
<path d="M922.3 699.7L948.4 745H896.3Z" fill="#ef7f1f"/>
<text class="c m" x="899.2" y="566.6" font-size="34.5" letter-spacing="0.1" fill="#1f2d52">措施</text>
<text class="c m" x="968.2" y="566.6" font-size="34.5" fill="#1f2d52">4</text>
<circle cx="996" cy="548.4" r="3.5" fill="#1f2d52"/><circle cx="996" cy="564.6" r="3.5" fill="#1f2d52"/>
<text class="c" x="906.2" y="607.29" font-size="17.5" letter-spacing="-0.25" fill="#1f2d52">气液分离器出口接</text>
<text class="c" x="906.2" y="633.44" font-size="17.5" letter-spacing="-0.25" fill="#1f2d52">钛丝，连接至泵底</text>
<text class="c" x="906.2" y="659.59" font-size="17.5" letter-spacing="-0.25" fill="#1f2d52">座接地，将罐内静</text>
<text class="c" x="906.2" y="685.74" font-size="17.5" letter-spacing="-0.25" fill="#1f2d52">电导出</text>
<path d="M399.5 1129.7H542.1V1313.9H355.9V1129.7H368.4" fill="none" stroke="#f0951d" stroke-width="4.2" stroke-linejoin="miter"/>
<path d="M362.5 1095H414L388.2 1140Z" fill="#f0951d"/>
<text class="c" x="370.2" y="1184.4" font-size="32.5" letter-spacing="1.3" fill="#1f2d52" stroke="#1f2d52" stroke-width="0.42">泵内情况</text>
<circle cx="515.2" cy="1165.4" r="3.4" fill="#1f2d52"/><circle cx="515.2" cy="1180.4" r="3.4" fill="#1f2d52"/>
<text class="c m" x="369.3" y="1223.23" font-size="20.5" letter-spacing="1.1" fill="#1f2d52">请选用</text>
<text class="c m" x="434.6" y="1223.23" font-size="21" fill="#1f2d52">HS-V80</text>
<text class="c m" x="506" y="1223.23" font-size="20.5" fill="#1f2d52">导</text>
<text class="c m" x="369.3" y="1256.63" font-size="20.5" letter-spacing="0.7" fill="#1f2d52">电耐腐蚀材料，</text>
<text class="c m" x="369.3" y="1289.83" font-size="20.5" letter-spacing="0.7" fill="#1f2d52">提高安全性。</text>
<path d="M646.0 1196.9H777.1V1379.5H591.4V1196.9H601.0" fill="none" stroke="#f0951d" stroke-width="4.2" stroke-linejoin="miter"/>
<path d="M598.3 1162.4H648.7L623.2 1206Z" fill="#f0951d"/>
<text class="c" x="608.2" y="1251.2" font-size="34" letter-spacing="-0.8" fill="#1f2d52" stroke="#1f2d52" stroke-width="0.44">措施</text>
<text class="c" x="674.3" y="1251.6" font-size="38" fill="#1f2d52">2</text>
<circle cx="704.6" cy="1232.4" r="3.4" fill="#1f2d52"/><circle cx="704.6" cy="1249.3" r="3.4" fill="#1f2d52"/>
<text class="c m" x="603.6" y="1286.38" font-size="19.5" letter-spacing="0.8" fill="#1f2d52">泵出口接导静电钛</text>
<text class="c m" x="603.6" y="1317.38" font-size="19.5" letter-spacing="0.8" fill="#1f2d52">丝，连接泵底座，</text>
<text class="c m" x="603.6" y="1348.38" font-size="19.5" letter-spacing="0.8" fill="#1f2d52">将泵内静电导出</text>
<path d="M887.0 1129.4H1018.3V1312.9H832.1V1129.4H843.0" fill="none" stroke="#f0951d" stroke-width="4.2" stroke-linejoin="miter"/>
<path d="M839 1097H890.8L865 1138.5Z" fill="#f0951d"/>
<text class="c" x="847.4" y="1191" font-size="34" letter-spacing="-0.8" fill="#1f2d52" stroke="#1f2d52" stroke-width="0.44">措施</text>
<text class="c" x="913.5" y="1191.4" font-size="38" fill="#1f2d52">3</text>
<circle cx="943" cy="1172.4" r="3.4" fill="#1f2d52"/><circle cx="943" cy="1189.2" r="3.4" fill="#1f2d52"/>
<text class="c m" x="846.2" y="1234.06" font-size="20.5" letter-spacing="1.45" fill="#1f2d52">通过换热降低可</text>
<text class="c m" x="846.2" y="1267.76" font-size="20.5" letter-spacing="1.45" fill="#1f2d52">燃气体温度</text>
<!-- watermark -->
<text class="c" transform="translate(76.06 1124.58) rotate(-13.0)" font-size="82" letter-spacing="-1.2" fill="#000" opacity="0.063">淄博华舜耐腐蚀真空泵有限公司</text>
</svg>
<div id="textlayer">
<div class="t" aria-hidden="true" style="left:0;top:0;font-size:1px">淄博华舜耐腐蚀真空泵有限公司</div>
<p class="t" style="left:13px;top:112px;width:524px;height:262px;font-size:25px;line-height:1.3">　　在抽吸易燃易爆气体时，您可以选择导电性能优越的高性能复材（HS-V80）真空泵，搭配导静电钛丝，将真空系统的静电导出；同时，可以安全的使用各种有机溶剂做液环真空泵的工作液，避免频繁更换工作液带来的污水处理问题。</p>
<div class="t" style="left:570px;top:353px;width:304px;height:30px;font-size:25px;line-height:1.3">HS-V80高性能复材真空泵</div>
<div class="t" style="left:913px;top:6px;width:21px;height:94px;font-size:20px;line-height:23px">导电材料</div>
<div class="t" style="left:913px;top:138px;width:21px;height:118px;font-size:20px;line-height:23px">导静电材料</div>
<div class="t" style="left:913px;top:297px;width:21px;height:94px;font-size:20px;line-height:23px">绝缘材料</div>
<div class="t" style="left:1043px;top:76px;width:98px;height:28px;font-size:24px;line-height:1.3">测试数据</div>
<h1 class="t" style="left:306px;top:455px;width:548px;height:40px;font-size:32px;line-height:1.3">静电爆炸三要素：可燃气体/温度/氧气</h1>
<div class="t" style="left:121px;top:532px;width:18px;height:106px;font-size:17px;line-height:17px">酸性腐蚀气体</div>
<div class="t" style="left:123px;top:753px;width:18px;height:88px;font-size:17px;line-height:17px">真空缓冲罐</div>
<div class="t" style="left:388px;top:782px;width:18px;height:88px;font-size:17px;line-height:17px">液环真空泵</div>
<div class="t" style="left:865px;top:747px;width:18px;height:90px;font-size:17px;line-height:18px">气液分离器</div>
<div class="t" style="left:1076px;top:990px;width:18px;height:53px;font-size:17px;line-height:17px">换热器</div>
<h3 class="t" style="left:899px;top:533px;width:110px;height:40px;font-size:33px;line-height:1.3">措施4：</h3>
<p class="t" style="left:906px;top:590px;width:140px;height:100px;font-size:17px;line-height:1.3">气液分离器出口接钛丝，连接至泵底座接地，将罐内静电导出</p>
<h3 class="t" style="left:370px;top:1152px;width:160px;height:38px;font-size:32px;line-height:1.3">泵内情况：</h3>
<p class="t" style="left:370px;top:1203px;width:160px;height:92px;font-size:20px;line-height:1.3">请选用HS-V80导电耐腐蚀材料，提高安全性。</p>
<h3 class="t" style="left:608px;top:1220px;width:105px;height:38px;font-size:31px;line-height:1.3">措施2：</h3>
<p class="t" style="left:604px;top:1267px;width:164px;height:90px;font-size:20px;line-height:1.3">泵出口接导静电钛丝，连接泵底座，将泵内静电导出</p>
<h3 class="t" style="left:847px;top:1160px;width:105px;height:38px;font-size:31px;line-height:1.3">措施3：</h3>
<p class="t" style="left:846px;top:1214px;width:152px;height:60px;font-size:21px;line-height:1.3">通过换热降低可燃气体温度</p>
</div>
</body></html>
